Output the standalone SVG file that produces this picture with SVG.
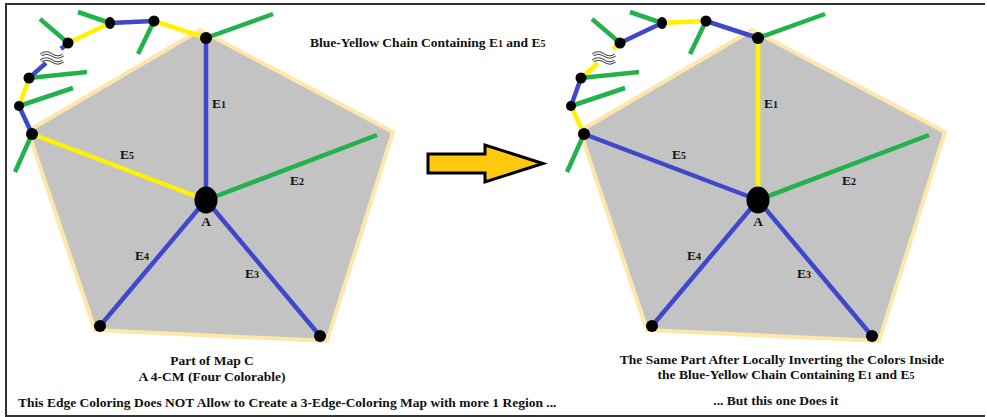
<svg xmlns="http://www.w3.org/2000/svg" width="987" height="417" viewBox="0 0 987 417">
  <style>
    .e { fill: none; stroke-width: 4.5; stroke-linecap: butt; }
    .b { stroke: #3f48cc; }
    .y { stroke: #fff200; }
    .g { stroke: #22b14c; }
    .face { fill: #c3c3c3; stroke: #fde7aa; stroke-width: 4; stroke-linejoin: miter; }
    .n { fill: #000; }
    .t { font-family: "Liberation Serif", "Times New Roman", serif; font-weight: bold; font-size: 13.5px; fill: #111; }
    .s { font-size: 10px; }
    .brk1 { fill: none; stroke: #444; stroke-width: 3.2; }
    .brk2 { fill: none; stroke: #fff; stroke-width: 1.3; }
  </style>
  <defs>
    <!-- break mark drawn across an elided stretch of the chain -->
    <g id="brk">
      <path class="brk1" d="M-11,-2 q5,-4 11,0 t11,0"/>
      <path class="brk1" d="M-11,4 q5,-4 11,0 t11,0"/>
      <path class="brk2" d="M-11,-2 q5,-4 11,0 t11,0"/>
      <path class="brk2" d="M-11,4 q5,-4 11,0 t11,0"/>
    </g>
  </defs>

  <rect width="987" height="417" fill="#fff"/>
  <path d="M985,4 H6 V416 H985" fill="none" stroke="#333" stroke-width="2"/>

  <!-- ===== left map part ===== -->
  <g id="left-map">
    <polygon id="left-face" class="face" points="200,30 393,132 327,341 95,330 28,131"/>
    <g id="left-connectors">
      <!-- edges at A -->
      <line class="e b" x1="206" y1="200" x2="206" y2="38"/>
      <line class="e g" x1="206" y1="200" x2="377" y2="135"/>
      <line class="e b" x1="206" y1="200" x2="320" y2="336"/>
      <line class="e b" x1="206" y1="200" x2="100" y2="326"/>
      <line class="e y" x1="206" y1="200" x2="32" y2="134"/>
      <!-- chain -->
      <line class="e y" x1="206" y1="38" x2="154" y2="21"/>
      <line class="e b" x1="154" y1="21" x2="110" y2="23"/>
      <line class="e y" x1="110" y1="23" x2="68" y2="43"/>
      <line class="e b" x1="68" y1="43" x2="61" y2="49"/>
      <line class="e b" x1="46" y1="63" x2="29" y2="78"/>
      <line class="e y" x1="29" y1="78" x2="19" y2="106"/>
      <line class="e b" x1="19" y1="106" x2="32" y2="134"/>
      <!-- green stubs -->
      <line class="e g" x1="206" y1="38" x2="273" y2="14"/>
      <line class="e g" x1="154" y1="21" x2="138" y2="54"/>
      <line class="e g" x1="110" y1="23" x2="78" y2="12"/>
      <line class="e g" x1="68" y1="43" x2="40" y2="19"/>
      <line class="e g" x1="29" y1="78" x2="87" y2="72"/>
      <line class="e g" x1="19" y1="106" x2="73" y2="88"/>
      <line class="e g" x1="32" y1="134" x2="15" y2="172"/>
      <use href="#brk" x="52" y="57"/>
    </g>
    <g id="left-A"><ellipse class="n" cx="206" cy="200" rx="11.5" ry="13.5"/><text class="t" x="206" y="226" text-anchor="middle">A</text></g>
    <g id="left-T"><circle class="n" cx="206" cy="38" r="6"/></g>
    <g id="left-N1"><circle class="n" cx="154" cy="21" r="5.5"/></g>
    <g id="left-N2"><ellipse class="n" cx="110" cy="23" rx="5" ry="6"/></g>
    <g id="left-N3"><circle class="n" cx="68" cy="43" r="5.5"/></g>
    <g id="left-N4"><circle class="n" cx="29" cy="78" r="5.5"/></g>
    <g id="left-N5"><circle class="n" cx="19" cy="106" r="5"/></g>
    <g id="left-L"><circle class="n" cx="32" cy="134" r="6"/></g>
    <g id="left-BL"><circle class="n" cx="100" cy="326" r="6"/></g>
    <g id="left-BR"><circle class="n" cx="320" cy="336" r="6"/></g>
    <g id="left-labels">
      <text class="t" x="212" y="108">E<tspan class="s">1</tspan></text>
      <text class="t" x="290" y="185">E<tspan class="s">2</tspan></text>
      <text class="t" x="245" y="278">E<tspan class="s">3</tspan></text>
      <text class="t" x="135" y="260">E<tspan class="s">4</tspan></text>
      <text class="t" x="120" y="159">E<tspan class="s">5</tspan></text>
    </g>
  </g>

  <!-- ===== right map part (colors inverted along the chain) ===== -->
  <g id="right-map" transform="translate(552,0)">
    <polygon id="right-face" class="face" points="200,30 393,132 327,341 95,330 28,131"/>
    <g id="right-connectors">
      <line class="e y" x1="206" y1="200" x2="206" y2="38"/>
      <line class="e g" x1="206" y1="200" x2="377" y2="135"/>
      <line class="e b" x1="206" y1="200" x2="320" y2="336"/>
      <line class="e b" x1="206" y1="200" x2="100" y2="326"/>
      <line class="e b" x1="206" y1="200" x2="32" y2="134"/>
      <line class="e b" x1="206" y1="38" x2="154" y2="21"/>
      <line class="e y" x1="154" y1="21" x2="110" y2="23"/>
      <line class="e b" x1="110" y1="23" x2="68" y2="43"/>
      <line class="e y" x1="68" y1="43" x2="61" y2="49"/>
      <line class="e y" x1="46" y1="63" x2="29" y2="78"/>
      <line class="e b" x1="29" y1="78" x2="19" y2="106"/>
      <line class="e y" x1="19" y1="106" x2="32" y2="134"/>
      <line class="e g" x1="206" y1="38" x2="273" y2="14"/>
      <line class="e g" x1="154" y1="21" x2="138" y2="54"/>
      <line class="e g" x1="110" y1="23" x2="78" y2="12"/>
      <line class="e g" x1="68" y1="43" x2="40" y2="19"/>
      <line class="e g" x1="29" y1="78" x2="87" y2="72"/>
      <line class="e g" x1="19" y1="106" x2="73" y2="88"/>
      <line class="e g" x1="32" y1="134" x2="15" y2="172"/>
      <use href="#brk" x="52" y="57"/>
    </g>
    <g id="right-A"><ellipse class="n" cx="206" cy="200" rx="11.5" ry="13.5"/><text class="t" x="206" y="226" text-anchor="middle">A</text></g>
    <g id="right-T"><circle class="n" cx="206" cy="38" r="6"/></g>
    <g id="right-N1"><circle class="n" cx="154" cy="21" r="5.5"/></g>
    <g id="right-N2"><ellipse class="n" cx="110" cy="23" rx="5" ry="6"/></g>
    <g id="right-N3"><circle class="n" cx="68" cy="43" r="5.5"/></g>
    <g id="right-N4"><circle class="n" cx="29" cy="78" r="5.5"/></g>
    <g id="right-N5"><circle class="n" cx="19" cy="106" r="5"/></g>
    <g id="right-L"><circle class="n" cx="32" cy="134" r="6"/></g>
    <g id="right-BL"><circle class="n" cx="100" cy="326" r="6"/></g>
    <g id="right-BR"><circle class="n" cx="320" cy="336" r="6"/></g>
    <g id="right-labels">
      <text class="t" x="212" y="108">E<tspan class="s">1</tspan></text>
      <text class="t" x="290" y="185">E<tspan class="s">2</tspan></text>
      <text class="t" x="245" y="278">E<tspan class="s">3</tspan></text>
      <text class="t" x="135" y="260">E<tspan class="s">4</tspan></text>
      <text class="t" x="120" y="159">E<tspan class="s">5</tspan></text>
    </g>
  </g>

  <!-- transition arrow -->
  <g id="arrow">
    <polygon points="428,154 485,154 485,145 543,163.5 485,182 485,173 428,173" fill="#ffc90e" stroke="#000" stroke-width="3" stroke-linejoin="miter"/>
  </g>

  <!-- captions -->
  <g id="captions">
    <text class="t" x="310" y="47">Blue-Yellow Chain Containing E<tspan class="s">1</tspan> and E<tspan class="s">5</tspan></text>
    <text class="t" x="212" y="365" text-anchor="middle">Part of Map C</text>
    <text class="t" x="212" y="381" text-anchor="middle">A 4-CM (Four Colorable)</text>
    <text class="t" x="18" y="407">This Edge Coloring Does NOT Allow to Create a 3-Edge-Coloring Map with more 1 Region ...</text>
    <text class="t" x="782" y="364" text-anchor="middle">The Same Part After Locally Inverting the Colors Inside</text>
    <text class="t" x="786" y="379" text-anchor="middle">the Blue-Yellow Chain Containing E<tspan class="s">1</tspan> and E<tspan class="s">5</tspan></text>
    <text class="t" x="776" y="405" text-anchor="middle">... But this one Does it</text>
  </g>
</svg>
